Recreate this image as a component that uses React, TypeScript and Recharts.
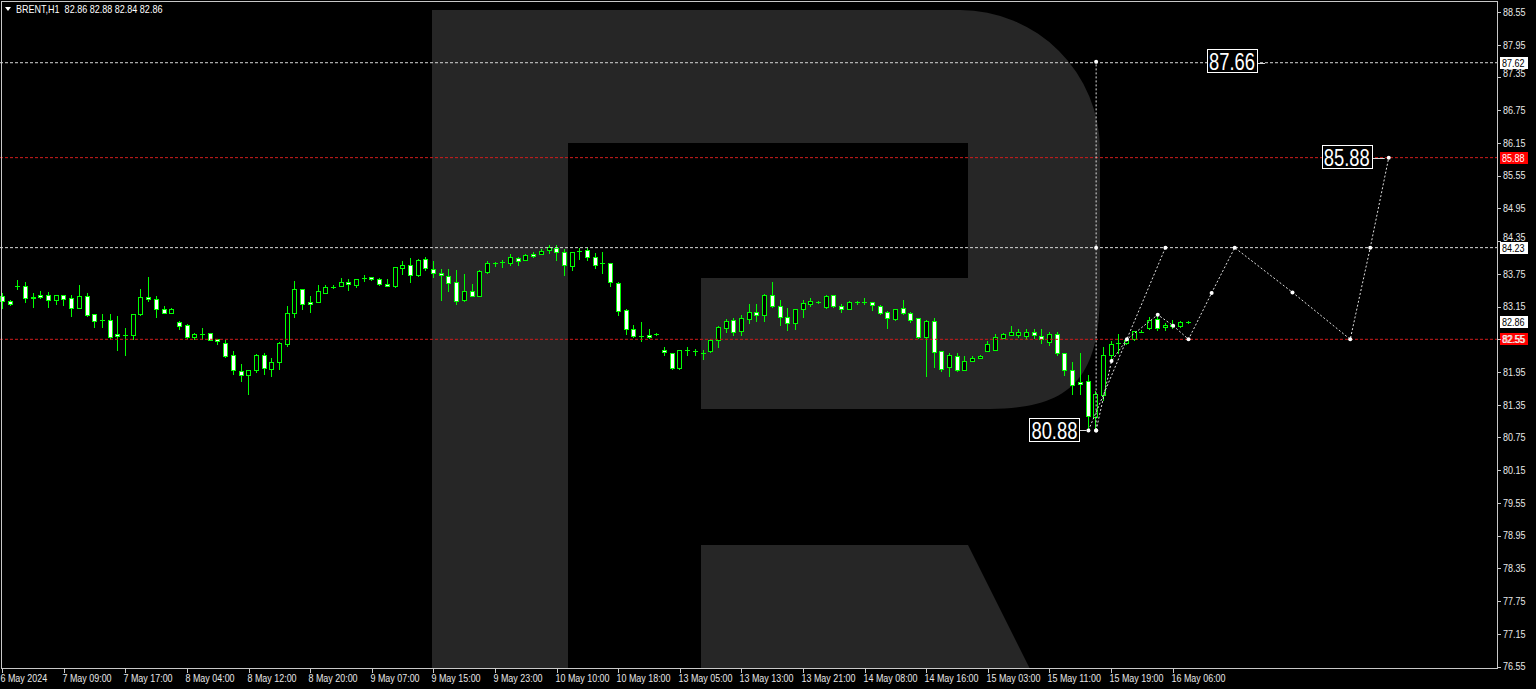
import React from 'react';
import { ComposedChart, Bar, Line, XAxis, YAxis, ReferenceLine, ReferenceDot } from 'recharts';

// BRENT H1 candles, bar 1 .. 155
const opens = [
  83.35, 83.26, 83.52, 83.52, 83.32, 83.365, 83.36, 83.27, 83.365, 83.31,
  83.13, 83.35, 83.01, 82.91, 82.9, 82.65, 82.63, 82.625, 83.01, 83.33,
  83.29, 83.11, 83.035, 82.875, 82.81, 82.59, 82.65, 82.66, 82.56, 82.49,
  82.26, 81.96, 81.89, 81.99, 82.26, 82.01, 82.13, 82.47, 83.03, 83.48,
  83.24, 83.24, 83.4, 83.51, 83.52, 83.6, 83.54, 83.665, 83.7, 83.66,
  83.57, 83.52, 83.86, 83.92, 83.725, 84.025, 83.835, 83.77, 83.71, 83.6,
  83.27, 83.43, 83.35, 83.79, 83.955, 83.975, 83.945, 84.04, 84.01, 84.12,
  84.12, 84.18, 84.23, 84.15, 83.9, 84.165, 84.185, 84.06, 83.94, 83.94,
  83.585, 83.095, 82.74, 82.61, 82.63, 82.64, 82.36, 82.3, 82.025, 82.35,
  82.33, 82.3, 82.33, 82.53, 82.76, 82.905, 82.7, 82.92, 83.046, 83.0,
  83.364, 83.162, 82.96, 82.856, 83.107, 83.199, 83.242, 83.144, 83.364, 83.168,
  83.107, 83.23, 83.242, 83.236, 83.162, 83.058, 82.924, 83.12, 83.034, 82.936,
  82.588, 82.88, 82.343, 82.043, 82.25, 81.995, 82.16, 82.21, 82.34, 82.36,
  82.575, 82.636, 82.62, 82.61, 82.68, 82.61, 82.5, 82.64, 82.3, 81.99,
  81.77, 81.79, 81.126, 81.535, 82.257, 82.48, 82.48, 82.56, 82.69, 82.75,
  82.92, 82.78, 82.82, 82.79, 82.86,
];
const highs = [
  83.4, 83.27, 83.63, 83.6, 83.4, 83.43, 83.41, 83.37, 83.37, 83.365,
  83.55, 83.4, 83.01, 83.02, 83.02, 82.97, 82.76, 83.02, 83.48, 83.7,
  83.35, 83.16, 83.12, 82.89, 82.83, 82.67, 82.76, 82.67, 82.56, 82.545,
  82.34, 82.1, 81.99, 82.28, 82.3, 82.21, 82.5, 83.16, 83.61, 83.48,
  83.34, 83.55, 83.54, 83.54, 83.68, 83.65, 83.66, 83.72, 83.7, 83.68,
  83.65, 83.88, 83.99, 84.04, 84.025, 84.06, 83.98, 83.84, 83.84, 83.82,
  83.74, 83.57, 83.82, 83.98, 83.96, 84.01, 84.12, 84.05, 84.12, 84.15,
  84.2, 84.27, 84.27, 84.2, 84.15, 84.23, 84.215, 84.135, 84.15, 83.95,
  83.6, 83.11, 82.82, 82.87, 82.73, 82.67, 82.41, 82.3, 82.36, 82.4,
  82.37, 82.35, 82.56, 82.8, 82.925, 82.94, 83.0, 83.19, 83.19, 83.376,
  83.609, 83.278, 83.132, 83.107, 83.266, 83.309, 83.26, 83.364, 83.37, 83.199,
  83.25, 83.26, 83.309, 83.24, 83.18, 83.07, 83.107, 83.278, 83.052, 82.94,
  82.899, 82.942, 82.343, 82.3, 82.3, 82.25, 82.24, 82.26, 82.51, 82.64,
  82.66, 82.8, 82.73, 82.74, 82.74, 82.74, 82.68, 82.69, 82.3, 82.13,
  82.29, 81.9, 81.6, 82.4, 82.51, 82.64, 82.58, 82.71, 82.72, 82.95,
  83.0, 82.85, 82.9, 82.88, 82.88,
];
const lows = [
  83.13, 83.17, 83.48, 83.24, 83.14, 83.3, 83.14, 83.19, 83.18, 82.97,
  83.13, 82.97, 82.77, 82.78, 82.56, 82.36, 82.27, 82.56, 83.0, 83.255,
  82.96, 83.03, 83.03, 82.73, 82.58, 82.56, 82.56, 82.54, 82.47, 82.22,
  81.91, 81.78, 81.55, 81.95, 81.92, 81.87, 82.01, 82.42, 82.96, 83.1,
  83.05, 83.23, 83.39, 83.49, 83.52, 83.45, 83.505, 83.615, 83.63, 83.55,
  83.53, 83.505, 83.75, 83.6, 83.71, 83.82, 83.69, 83.27, 83.43, 83.205,
  83.25, 83.34, 83.34, 83.77, 83.9, 83.88, 83.92, 83.91, 84.0, 84.06,
  84.105, 84.135, 84.0, 83.725, 83.82, 84.03, 84.01, 83.86, 83.76, 83.52,
  83.0, 82.655, 82.59, 82.515, 82.575, 82.62, 82.27, 82.01, 82.01, 82.27,
  82.27, 82.19, 82.31, 82.41, 82.68, 82.62, 82.62, 82.85, 82.88, 82.88,
  83.138, 82.82, 82.728, 82.747, 82.954, 83.156, 83.217, 83.132, 83.14, 83.046,
  83.1, 83.199, 83.199, 83.095, 83.02, 82.759, 82.9, 83.02, 82.862, 82.575,
  81.87, 82.043, 81.964, 81.87, 81.96, 81.98, 82.15, 82.2, 82.33, 82.35,
  82.57, 82.62, 82.59, 82.56, 82.575, 82.48, 82.45, 82.27, 81.89, 81.55,
  81.55, 80.89, 80.89, 81.44, 82.17, 82.29, 82.46, 82.54, 82.68, 82.74,
  82.72, 82.72, 82.76, 82.78, 82.84,
];
const closes = [
  83.25, 83.2, 83.52, 83.3, 83.31, 83.32, 83.27, 83.365, 83.28, 83.13,
  83.35, 82.99, 82.89, 82.9, 82.59, 82.61, 82.62, 83.02, 83.33, 83.28,
  83.11, 83.04, 83.11, 82.8, 82.59, 82.64, 82.65, 82.545, 82.51, 82.24,
  81.98, 81.9, 81.99, 82.27, 82.025, 82.135, 82.48, 83.04, 83.48, 83.19,
  83.19, 83.43, 83.5, 83.51, 83.6, 83.57, 83.66, 83.665, 83.66, 83.57,
  83.53, 83.88, 83.915, 83.725, 84.01, 83.85, 83.77, 83.725, 83.585, 83.25,
  83.43, 83.35, 83.805, 83.945, 83.94, 83.975, 84.05, 83.99, 84.1, 84.08,
  84.17, 84.245, 84.15, 83.915, 84.15, 84.165, 84.06, 83.915, 83.94, 83.6,
  83.065, 82.74, 82.605, 82.61, 82.59, 82.65, 82.31, 82.025, 82.36, 82.35,
  82.33, 82.3, 82.53, 82.777, 82.89, 82.68, 82.936, 83.05, 82.997, 83.364,
  83.156, 82.96, 82.856, 83.107, 83.217, 83.26, 83.242, 83.346, 83.156, 83.107,
  83.236, 83.23, 83.242, 83.18, 83.034, 82.936, 83.107, 83.034, 82.9, 82.594,
  82.88, 82.312, 82.006, 82.27, 81.98, 82.16, 82.21, 82.25, 82.465, 82.59,
  82.65, 82.68, 82.68, 82.68, 82.636, 82.55, 82.64, 82.29, 81.99, 81.71,
  81.73, 81.14, 81.556, 82.27, 82.47, 82.48, 82.545, 82.7, 82.69, 82.91,
  82.76, 82.82, 82.8, 82.87, 82.86,
];

const timeTicks = [1, 9, 17, 25, 33, 41, 49, 57, 65, 73, 81, 89, 97, 105, 113, 121, 129, 137, 145, 153];
const timeLabels = [
  '6 May 2024', '7 May 09:00', '7 May 17:00', '8 May 04:00', '8 May 12:00', '8 May 20:00',
  '9 May 07:00', '9 May 15:00', '9 May 23:00', '10 May 10:00', '10 May 18:00', '13 May 05:00',
  '13 May 13:00', '13 May 21:00', '14 May 08:00', '14 May 16:00', '15 May 03:00', '15 May 11:00',
  '15 May 19:00', '16 May 06:00',
];
const priceTicks = [
  76.55, 77.15, 77.75, 78.35, 78.95, 79.55, 80.15, 80.75, 81.35, 81.95, 82.55,
  83.15, 83.75, 84.35, 84.95, 85.55, 86.15, 86.75, 87.35, 87.95, 88.55,
];

// levels and forecast drawing
const whiteLevels = [87.62, 84.23];
const redLevels = [85.88, 82.55];
const lastPrice = 82.86;
const stemIdx = [143, 143, 143];
const stemVal = [80.88, 84.23, 87.64];
const pathAIdx = [142, 152];
const pathAVal = [80.88, 84.23];
const pathBIdx = [143, 145, 147, 151, 153, 155, 158, 161, 168.5, 176, 178.6, 181];
const pathBVal = [80.88, 82.15, 82.55, 83.0, 82.8, 82.55, 83.4, 84.23, 83.41, 82.55, 84.23, 85.88];

const FONT = '"Liberation Sans", Arial, sans-serif';
const GREEN = '#00ff00';
const TXT = '#e8e8e8';
const LOGO = '#262626';
const RED = '#d01c1c';
const LEVEL_WHITE = '#d8d8d8';

const candles = opens.map((o, k) => ({
  i: k + 1,
  o,
  h: highs[k],
  l: lows[k],
  c: closes[k],
  range: [lows[k], highs[k]],
}));
const toPts = (idx: number[], val: number[]) => idx.map((i, k) => ({ i, v: val[k] }));
const stem = toPts(stemIdx, stemVal);
const pathA = toPts(pathAIdx, pathAVal);
const pathB = toPts(pathBIdx, pathBVal);

function Candle(props: any) {
  const { x, y, width, height, payload } = props;
  if (!payload || x == null || y == null) return null;
  const { o, h, l, c } = payload;
  const yTop = Math.min(y, y + height);
  const yBot = Math.max(y, y + height);
  const py = (v: number) => yTop + ((h - v) / (h - l)) * (yBot - yTop);
  const cx = Math.floor(x + width / 2) + 0.5;
  const bt = Math.round(py(Math.max(o, c))) + 0.5;
  const bb = Math.round(py(Math.min(o, c))) + 0.5;
  const bh = bb - bt;
  return (
    <g>
      <line x1={cx} x2={cx} y1={Math.round(yTop)} y2={Math.round(yBot) + 1} stroke={GREEN} />
      {bh < 1 ? (
        <line x1={cx - 2.5} x2={cx + 2.5} y1={bt} y2={bt} stroke={GREEN} />
      ) : (
        <rect x={cx - 2} y={bt} width={4} height={bh} fill={c > o ? '#000' : '#fff'} stroke={GREEN} />
      )}
    </g>
  );
}

// narrow text, like the terminal's small font
function Small({ x, y, fill, children, sx = 0.8 }: any) {
  return (
    <text transform={`translate(${x},${y}) scale(${sx},1)`} fill={fill} fontSize={10.5} fontFamily={FONT}>
      {children}
    </text>
  );
}

function XTick({ x, y, payload }: any) {
  const k = timeTicks.indexOf(payload.value);
  const tx = Math.floor(x) + 0.5;
  return (
    <g>
      <line x1={tx} x2={tx} y1={y} y2={y + 4} stroke="#c8c8c8" />
      <Small x={tx - 2} y={y + 12.5} fill={TXT} sx={0.85}>
        {timeLabels[k]}
      </Small>
    </g>
  );
}

function YTick({ x, y, payload }: any) {
  const ty = Math.round(y) + 0.5;
  const shift = payload.value === 87.35 ? -4 : payload.value === 84.35 ? -4 : 0;
  return (
    <g>
      <line x1={x} x2={x + 3} y1={ty} y2={ty} stroke="#c8c8c8" />
      <Small x={x + 5} y={y + shift + 3.8} fill={TXT} sx={0.86}>
        {payload.value.toFixed(2)}
      </Small>
    </g>
  );
}

const axisBox = (text: string, bg: string, fg: string) => ({
  content: (p: any) => {
    const vb = p.viewBox;
    if (!vb) return null;
    const bx = vb.x + vb.width + 2;
    const cy = Math.round(vb.y);
    return (
      <g>
        <rect x={bx} y={cy - 6} width={28} height={12} fill={bg} />
        <Small x={bx + 2} y={cy + 3.8} fill={fg} sx={0.86}>
          {text}
        </Small>
      </g>
    );
  },
});

// boxed price note; offsets are relative to the anchored point
const tag = (text: string, boxX: number, lineFrom: number, lineTo: number, dy: number) => (p: any) => {
  const cx = p.cx;
  const cy = Math.round(p.cy) + 0.5;
  return (
    <g>
      <line x1={cx + lineFrom} x2={cx + lineTo} y1={cy} y2={cy} stroke="#d8d8d8" />
      <rect x={Math.round(cx + boxX) + 0.5} y={cy - 12 + dy} width={50} height={23} fill="#000" stroke="#fff" />
      <text
        x={cx + boxX + 2}
        y={cy + 8 + dy}
        textLength={46}
        lengthAdjust="spacingAndGlyphs"
        fill="#fff"
        fontSize={23}
        fontFamily={FONT}
      >
        {text}
      </text>
    </g>
  );
};

export default function App() {
  return (
    <div style={{ position: 'absolute', left: 0, top: 0, width: 1536, height: 689, background: '#000', overflow: 'hidden' }}>
      <svg width={1536} height={689} style={{ position: 'absolute', left: 0, top: 0 }}>
        <path d="M432 10 H568 V669 H432 Z" fill={LOGO} />
        <path
          d="M568 10 H960 A140 140 0 0 1 1100 150 V290 C1100 380 1070 408 990 409 H701 V278 H968 V143 H568 Z"
          fill={LOGO}
        />
        <path d="M701 545 H968 L1030 669 H701 Z" fill={LOGO} />
      </svg>

      <div style={{ position: 'absolute', left: 0, top: 0 }}>
        <ComposedChart width={1536} height={689} data={candles} margin={{ top: 2, right: 0, bottom: 0, left: 0 }}>
          <XAxis
            dataKey="i"
            type="number"
            domain={[0.6494, 195.19]}
            allowDataOverflow
            ticks={timeTicks}
            interval={0}
            height={20}
            axisLine={false}
            tickLine={false}
            tickSize={0}
            tickMargin={0}
            tick={<XTick />}
          />
          <YAxis
            orientation="right"
            type="number"
            domain={[76.506, 88.7333]}
            allowDataOverflow
            ticks={priceTicks}
            interval={0}
            width={38}
            axisLine={false}
            tickLine={false}
            tickSize={0}
            tickMargin={0}
            tick={<YTick />}
          />
          <Bar dataKey="range" barSize={5} shape={(p: any) => <Candle {...p} />} isAnimationActive={false} />

          {whiteLevels.map((v) => (
            <ReferenceLine key={v} y={v} stroke={LEVEL_WHITE} strokeDasharray="3 2" label={axisBox(v.toFixed(2), '#fff', '#000')} />
          ))}
          {redLevels.map((v) => (
            <ReferenceLine key={v} y={v} stroke={RED} strokeDasharray="3 2" label={axisBox(v.toFixed(2), '#ff0000', '#fff')} />
          ))}
          <ReferenceLine y={lastPrice} stroke="#000" strokeOpacity={0} label={axisBox(lastPrice.toFixed(2), '#fff', '#000')} />

          <Line data={stem} dataKey="v" stroke="#e0e0e0" strokeDasharray="2 2" dot={{ r: 2, fill: '#fff', stroke: 'none' }} isAnimationActive={false} />
          <Line data={pathA} dataKey="v" stroke="#e0e0e0" strokeDasharray="2 2" dot={{ r: 2, fill: '#fff', stroke: 'none' }} isAnimationActive={false} />
          <Line data={pathB} dataKey="v" stroke="#e0e0e0" strokeDasharray="2 2" dot={{ r: 2, fill: '#fff', stroke: 'none' }} isAnimationActive={false} />

          <ReferenceDot x={157.4} y={87.62} r={0} shape={tag('87.66', 0, 50, 58, -2)} />
          <ReferenceDot x={181} y={85.88} r={0} shape={tag('85.88', -67, -17, -4, -1)} />
          <ReferenceDot x={142} y={80.88} r={0} shape={tag('80.88', -59, -9, -2, 0)} />
        </ComposedChart>
      </div>

      <svg width={1536} height={689} style={{ position: 'absolute', left: 0, top: 0, pointerEvents: 'none' }}>
        <rect x={1.5} y={1.5} width={1496} height={667} fill="none" stroke="#c8c8c8" />
        <path d="M5 7 H11 L8 11 Z" fill="#fff" />
      </svg>
      <div
        style={{
          position: 'absolute',
          left: 16,
          top: 3,
          color: '#fff',
          fontSize: 11,
          fontFamily: FONT,
          whiteSpace: 'pre',
          lineHeight: '13px',
          transform: 'scaleX(0.82)',
          transformOrigin: 'left top',
        }}
      >
        {'BRENT,H1  82.86 82.88 82.84 82.86'}
      </div>
    </div>
  );
}
